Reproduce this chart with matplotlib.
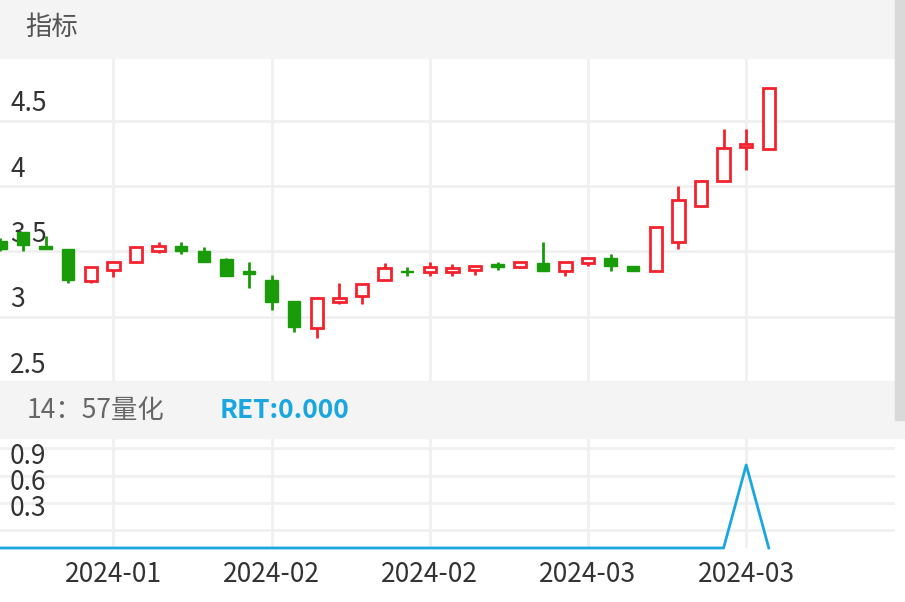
import matplotlib.pyplot as plt
from matplotlib.patches import Rectangle
import matplotlib.transforms as mtransforms

plt.rcParams['font.family'] = ['Noto Sans CJK SC', 'DejaVu Sans']

# === data ===
opens = [3.58, 3.65, 3.54, 3.52, 3.27, 3.36, 3.42, 3.50, 3.54, 3.50, 3.44, 3.35,
         3.28, 3.12, 2.91, 3.11, 3.16, 3.28, 3.35, 3.34, 3.34, 3.36, 3.40, 3.38,
         3.41, 3.35, 3.41, 3.45, 3.39, 3.35, 3.57, 3.85, 4.04, 4.30, 4.28]
closes = [3.52, 3.55, 3.52, 3.28, 3.38, 3.42, 3.53, 3.54, 3.50, 3.42, 3.31, 3.33,
          3.11, 2.92, 3.14, 3.14, 3.25, 3.37, 3.34, 3.38, 3.37, 3.39, 3.38, 3.42,
          3.35, 3.42, 3.45, 3.39, 3.35, 3.69, 3.89, 4.04, 4.29, 4.32, 4.75]
highs = [3.60, 3.65, 3.62, 3.52, 3.38, 3.42, 3.53, 3.57, 3.57, 3.53, 3.45, 3.42,
         3.32, 2.92, 3.15, 3.26, 3.25, 3.41, 3.38, 3.42, 3.40, 3.39, 3.42, 3.42,
         3.57, 3.42, 3.45, 3.48, 3.39, 3.69, 4.00, 4.05, 4.44, 4.44, 4.75]
lows = [3.50, 3.50, 3.52, 3.26, 3.26, 3.30, 3.42, 3.49, 3.48, 3.42, 3.31, 3.22,
        3.05, 2.88, 2.84, 3.10, 3.10, 3.28, 3.31, 3.31, 3.31, 3.32, 3.36, 3.38,
        3.35, 3.31, 3.39, 3.35, 3.35, 3.35, 3.52, 3.84, 4.04, 4.12, 4.28]
ret_x = [0, 32, 33, 34]
ret_y = [0, 0, 0.83, 0]
date_pos = [5, 12, 19, 26, 33]
date_labels = ['2024-01', '2024-02', '2024-02', '2024-03', '2024-03']
price_ticks = [2.5, 3, 3.5, 4, 4.5]
price_labels = ['2.5', '3', '3.5', '4', '4.5']

RED = '#f5222d'
GREEN = '#1a9c0a'
BLUE = '#1aa7e0'
GRID = '#f0f0f0'
BAND = '#f4f4f4'
FS = 19

W, H = 905, 602
fig = plt.figure(figsize=(W / 100, H / 100), dpi=100)

def box(x0, y0, x1, y1):
    # pixel coords (top-left origin) -> figure fraction
    return [x0 / W, 1 - y1 / H, (x1 - x0) / W, (y1 - y0) / H]

# header bands
for y0, y1 in [(0, 58), (382, 438)]:
    fig.patches.append(Rectangle((0, 1 - y1 / H), 1, (y1 - y0) / H,
                                 transform=fig.transFigure, color=BAND, zorder=0))
fig.patches.append(Rectangle((895 / W, 1 - 420 / H), 10 / W, 420 / H,
                             transform=fig.transFigure, color='#d9d9d9', zorder=1))
fig.text(25 / W, 1 - 27 / H, '指标', fontsize=FS, color='#555555', va='center')
fig.text(27 / W, 1 - 410 / H, '14：57量化', fontsize=FS, color='#666666', va='center')
fig.text(220 / W, 1 - 410 / H, 'RET:0.000', fontsize=FS, color=BLUE,
         fontweight='bold', va='center')

x0px = 23
xmin = 1 - x0px / 22.6
xmax = 1 + (895 - x0px) / 22.6

# main candle axes
ax = fig.add_axes(box(0, 58, 895, 382))
ax.set_xlim(xmin, xmax)
ax.set_ylim(2.5, 4.98)
for p in date_pos:
    ax.axvline(p, color=GRID, lw=2, zorder=0)
for t in price_ticks:
    ax.axhline(t, color=GRID, lw=2, zorder=0)
trans = mtransforms.blended_transform_factory(ax.transAxes, ax.transData)
for t, lab in zip(price_ticks, price_labels):
    ax.text(10 / 895, t + 0.13, lab, transform=trans, fontsize=FS,
            color='#333333', va='center')
bw = 0.55
for i, (o, c, h, l) in enumerate(zip(opens, closes, highs, lows)):
    up = c >= o
    col = RED if up else GREEN
    top, bot = max(o, c), min(o, c)
    ax.plot([i, i], [top, h], color=col, lw=2, solid_capstyle='butt', zorder=2)
    ax.plot([i, i], [l, bot], color=col, lw=2, solid_capstyle='butt', zorder=2)
    hgt = max(top - bot, 0.012)
    if up:
        ax.add_patch(Rectangle((i - bw / 2, bot), bw, hgt, facecolor='white',
                               edgecolor=col, lw=2, zorder=3))
    else:
        ax.add_patch(Rectangle((i - bw / 2, bot), bw, hgt, facecolor=col,
                               edgecolor=col, lw=1, zorder=3))
ax.axis('off')

# bottom RET axes
ax2 = fig.add_axes(box(0, 438, 895, 548))
ax2.set_xlim(xmin, xmax)
ax2.set_ylim(0, 1.1)
for p in date_pos:
    ax2.axvline(p, color=GRID, lw=2, zorder=0)
for g in [1.0, 0.72, 0.45, 0.18]:
    ax2.axhline(g, color=GRID, lw=2, zorder=0)
for g, lab in zip([1.0, 0.74, 0.47], ['0.9', '0.6', '0.3']):
    ax2.text(10 / 895, g - 0.08, lab, transform=ax2.get_yaxis_transform(),
             fontsize=FS, color='#333333', va='center')
ax2.plot(ret_x, ret_y, color=BLUE, lw=2, clip_on=False, zorder=3)
ax2.plot([xmin, 0], [0, 0], color=BLUE, lw=2, clip_on=False)
ax2.axis('off')

for p, lab in zip(date_pos, date_labels):
    xp = (x0px + (p - 1) * 22.6) / W
    fig.text(xp, 1 - 574 / H, lab, fontsize=FS, color='#333333',
             ha='center', va='center')

fig.savefig('out.png', dpi=100)
